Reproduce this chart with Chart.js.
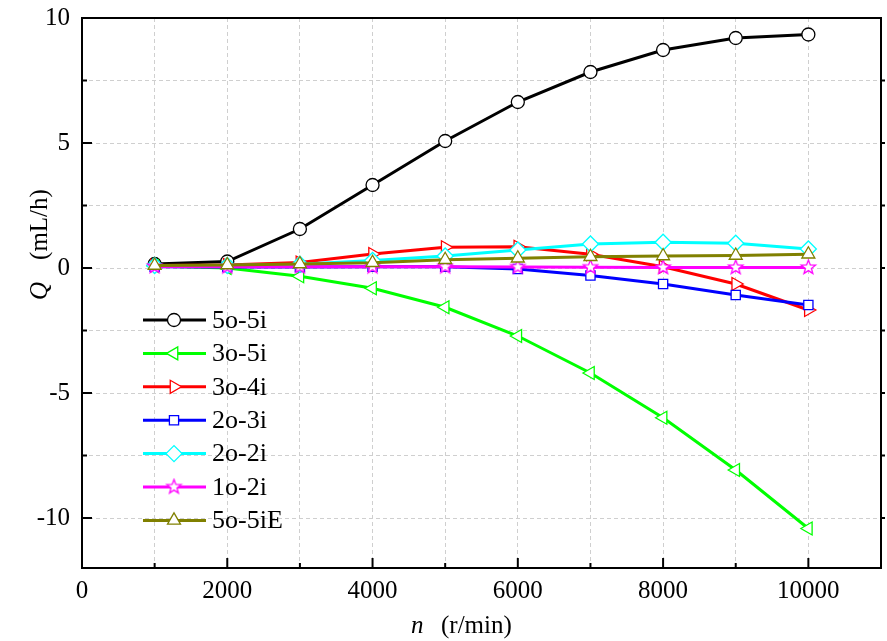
<!DOCTYPE html>
<html>
<head>
<meta charset="utf-8">
<script src="https://cdn.jsdelivr.net/npm/chart.js@4.4.0/dist/chart.umd.min.js"></script>
<style>
body{margin:0;background:#fff;}
#wrap{width:887px;height:641px;position:relative;}
</style>
</head>
<body>
<div id="wrap"><canvas id="Linecanvas" width="887" height="641"></canvas></div>
<script>
// speed n (r/min)
var speeds=[1000,2000,3000,4000,5000,6000,7000,8000,9000,10000];
var seriesNames=["5o-5i","3o-5i","3o-4i","2o-3i","2o-2i","1o-2i","5o-5iE"];
// flow Q (mL/h) per configuration
var q5o5i=[0.16,0.26,1.56,3.32,5.08,6.64,7.84,8.72,9.2,9.34];
var q3o5i=[0.08,0.0,-0.33,-0.81,-1.57,-2.72,-4.2,-5.99,-8.08,-10.42];
var q3o4i=[0.1,0.12,0.22,0.56,0.83,0.85,0.55,0.05,-0.64,-1.68];
var q2o3i=[0.05,0.04,0.04,0.05,0.05,-0.04,-0.3,-0.64,-1.08,-1.48];
var q2o2i=[0.1,0.1,0.15,0.3,0.48,0.72,0.96,1.03,0.99,0.76];
var q1o2i=[0.06,0.05,0.05,0.05,0.05,0.04,0.03,0.02,0.02,0.02];
var q5o5iE=[0.1,0.12,0.16,0.21,0.33,0.39,0.45,0.48,0.5,0.55];
var xTickLabels=["0","2000","4000","6000","8000","10000"];
var yTickLabels=["-10","-5","0","5","10"];

var serif="'Liberation Serif','Times New Roman',serif";

// markers never touch the frame, so no extra room is needed for them
Chart.LineController.prototype.getMaxOverflow=function(){return 0;};

function makeStar(color,r){
    var c=document.createElement('canvas');
    c.width=r*2+4;c.height=r*2+4;
    var g=c.getContext('2d');
    var cx=c.width/2,cy=c.height/2;
    g.beginPath();
    for(var i=0;i<10;i++){
        var rad=(i%2==0)?r:r*0.42;
        var a=-Math.PI/2+i*Math.PI/5;
        var px=cx+rad*Math.cos(a),py=cy+rad*Math.sin(a);
        if(i==0) g.moveTo(px,py); else g.lineTo(px,py);
    }
    g.closePath();
    g.fillStyle='#fff';
    g.fill();
    g.lineWidth=1.3;
    g.strokeStyle=color;
    g.stroke();
    return c;
}
var starImg=makeStar('#ff00ff',7.5);

var allData=[q5o5i,q3o5i,q3o4i,q2o3i,q2o2i,q1o2i,q5o5iE];
var colors=["#000000","#00ff00","#ff0000","#0000ff","#00ffff","#ff00ff","#808000"];
var styles=["circle","triangle","triangle","rect","rectRot",starImg,"triangle"];
var rotations=[0,-90,90,0,0,0,0];
var radii=[6.5,7.5,7.5,6.5,8,8,7.5];

var datasets=[];
for(var i=0;i<seriesNames.length;i++){
    var pts=[];
    for(var j=0;j<speeds.length;j++){
        pts.push({x:speeds[j],y:allData[i][j]});
    }
    datasets.push({
        label:seriesNames[i],
        data:pts,
        borderColor:colors[i],
        backgroundColor:'#ffffff',
        pointBackgroundColor:'#ffffff',
        pointBorderColor:colors[i],
        pointBorderWidth:1.3,
        pointHoverRadius:0,
        borderWidth:3,
        pointStyle:styles[i],
        pointRotation:rotations[i],
        pointRadius:radii[i],
        tension:0,
        clip:false,
        order:seriesNames.length-1-i
    });
}

var framePlugin={
    id:'frame',
    afterDraw:function(chart){
        var ctx=chart.ctx;
        var a=chart.chartArea;
        var xs=chart.scales.x,ys=chart.scales.y;
        ctx.save();
        ctx.strokeStyle='#000';
        ctx.lineWidth=2;
        ctx.strokeRect(a.left,a.top,a.right-a.left,a.bottom-a.top);
        // inward ticks
        ctx.lineWidth=2;
        for(var v=1000;v<11000;v+=1000){
            var px=xs.getPixelForValue(v);
            var len=(v%2000==0)?10:5;
            ctx.beginPath();ctx.moveTo(px,a.bottom);ctx.lineTo(px,a.bottom-len);ctx.stroke();
        }
        for(var w=-10;w<10;w+=2.5){
            var py=ys.getPixelForValue(w);
            var len2=(w%5==0)?10:5;
            ctx.beginPath();ctx.moveTo(a.left,py);ctx.lineTo(a.left+len2,py);ctx.stroke();
            ctx.beginPath();ctx.moveTo(a.right,py);ctx.lineTo(a.right+4,py);ctx.stroke();
        }
        // axis titles
        ctx.fillStyle='#000';
        ctx.textBaseline='alphabetic';
        ctx.textAlign='left';
        ctx.font='25px '+serif;
        ctx.fillText('(r/min)',441,633);
        ctx.font='italic 25px '+serif;
        ctx.fillText('n',411,633);

        ctx.translate(47,300);
        ctx.rotate(-Math.PI/2);
        ctx.font='italic 25px '+serif;
        ctx.fillText('Q',0,0);
        var qW=ctx.measureText('Q').width;
        ctx.font='25px '+serif;
        ctx.fillText('(mL/h)',qW+22,0);
        ctx.restore();

        // legend inside plot
        ctx.save();
        var ds=chart.data.datasets;
        for(var k=0;k<ds.length;k++){
            var ly=320+k*33.4;
            ctx.strokeStyle=ds[k].borderColor;
            ctx.lineWidth=3;
            ctx.beginPath();ctx.moveTo(143,ly);ctx.lineTo(206,ly);ctx.stroke();
            ctx.fillStyle='#fff';
            ctx.strokeStyle=ds[k].pointBorderColor;
            ctx.lineWidth=1.3;
            Chart.helpers.drawPoint(ctx,{pointStyle:ds[k].pointStyle,rotation:ds[k].pointRotation,radius:ds[k].pointRadius,borderWidth:1.3},174,ly);
            ctx.fillStyle='#000';
            ctx.font='26px '+serif;
            ctx.textBaseline='middle';
            ctx.textAlign='left';
            ctx.fillText(ds[k].label,212,ly+1);
        }
        ctx.restore();
    }
};

var ctx1=document.getElementById("Linecanvas").getContext("2d");
window.myLine=new Chart(ctx1,{
    type:'line',
    data:{datasets:datasets},
    plugins:[framePlugin],
    options:{
        responsive:false,
        animation:false,
        layout:{padding:{top:18,right:6,left:0,bottom:0}},
        plugins:{legend:{display:false},tooltip:{enabled:false}},
        scales:{
            x:{
                type:'linear',
                min:0,max:11000,
                border:{display:false,dash:[4,3]},
                grid:{color:'#cfcfcf',lineWidth:1,drawTicks:false},
                ticks:{
                    stepSize:1000,
                    autoSkip:false,
                    maxRotation:0,
                    padding:8,
                    color:'#000',
                    font:{family:serif,size:25},
                    callback:function(v){
                        return xTickLabels.indexOf(String(v))>=0?String(v):'';
                    }
                },
                afterFit:function(s){s.height=73;s.paddingLeft=0;s.paddingRight=0;}
            },
            y:{
                min:-12,max:10,
                border:{display:false,dash:[4,3]},
                grid:{color:'#cfcfcf',lineWidth:1,drawTicks:false},
                ticks:{
                    stepSize:2.5,
                    autoSkip:false,
                    padding:12,
                    color:'#000',
                    font:{family:serif,size:25},
                    callback:function(v){
                        return yTickLabels.indexOf(String(v))>=0?String(v):'';
                    }
                },
                afterFit:function(s){s.width=82;s.paddingTop=0;s.paddingBottom=0;}
            }
        }
    }
});
</script>
</body>
</html>
